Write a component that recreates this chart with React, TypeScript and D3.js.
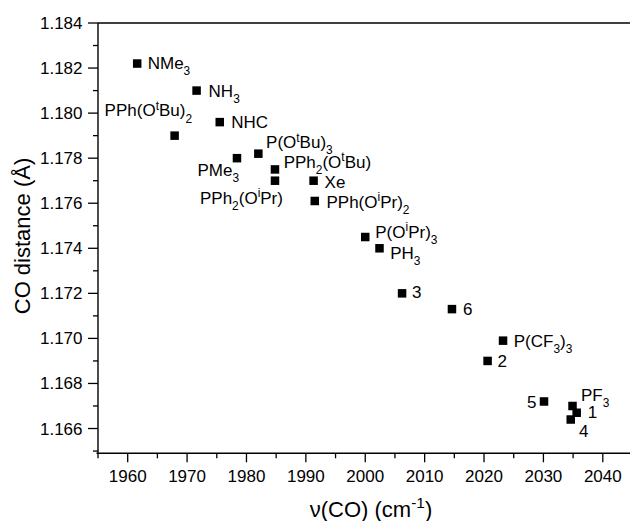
import React from 'react';
import * as d3 from 'd3';

// ligand labels (markup: _x subscript, ^x superscript)
const ligands = [
  'NMe_3', 'NH_3', 'NHC', 'PPh(O^tBu)_2', 'PMe_3', 'P(O^tBu)_3',
  'PPh_2(O^tBu)', 'PPh_2(O^iPr)', 'Xe', 'PPh(O^iPr)_2', 'P(O^iPr)_3',
  'PH_3', '3', '6', 'P(CF_3)_3', '2', '5', 'PF_3', '1', '4',
];
// ν(CO) in cm-1
const nuCO = [
  1961.6, 1971.6, 1975.5, 1967.9, 1978.4, 1982.0,
  1984.8, 1984.8, 1991.3, 1991.5, 2000.0,
  2002.4, 2006.2, 2014.6, 2023.2, 2020.6, 2030.1, 2034.9, 2035.6, 2034.6,
];
// CO distance in Å
const coDist = [
  1.1822, 1.1810, 1.1796, 1.1790, 1.1780, 1.1782,
  1.1775, 1.1770, 1.1770, 1.1761, 1.1745,
  1.1740, 1.1720, 1.1713, 1.1699, 1.1690, 1.1672, 1.1670, 1.1667, 1.1664,
];

const xTicks = [1960, 1970, 1980, 1990, 2000, 2010, 2020, 2030, 2040];
const yTicks = [1.166, 1.168, 1.17, 1.172, 1.174, 1.176, 1.178, 1.18, 1.182, 1.184];

// label placement relative to marker centre: [dx, dy, anchor]
const labelPlacement: [number, number, string][] = [
  [10.5, 5, 'start'], [12, 6, 'start'], [11.4, 6, 'start'], [-70, -19.5, 'start'],
  [-39.5, 17.5, 'start'], [7.7, -5.7, 'start'], [8.7, -1.7, 'start'], [-75, 23, 'start'],
  [11, 7, 'start'], [11.7, 6.6, 'start'], [10, 0.7, 'start'], [10.7, 10.7, 'start'],
  [10, 5, 'start'], [11, 5.4, 'start'], [10.7, 6, 'start'], [10, 5.6, 'start'],
  [-7.6, 6.7, 'end'], [8.4, -5, 'start'], [11, 5, 'start'], [8.3, 17.6, 'start'],
];

const W = 630;
const H = 521;
const FONT = 'Liberation Sans, Arial, Helvetica, sans-serif';

const x = d3.scaleLinear().domain([1955, 2045]).range([98, 632.5]);
const y = d3.scaleLinear().domain([1.1649, 1.184]).range([453.3, 23]);

type Seg = { t: string; kind: 'n' | 'sub' | 'sup' };

function parse(s: string): Seg[] {
  const out: Seg[] = [];
  let i = 0;
  let buf = '';
  while (i < s.length) {
    const c = s[i];
    if (c === '_' || c === '^') {
      if (buf) out.push({ t: buf, kind: 'n' });
      buf = '';
      let t = '';
      if (s[i + 1] === '{') {
        const j = s.indexOf('}', i);
        t = s.slice(i + 2, j);
        i = j + 1;
      } else {
        t = s[i + 1];
        i += 2;
      }
      out.push({ t, kind: c === '_' ? 'sub' : 'sup' });
    } else {
      buf += c;
      i++;
    }
  }
  if (buf) out.push({ t: buf, kind: 'n' });
  return out;
}

const RichText: React.FC<{ s: string; size: number }> = ({ s, size }) => {
  let prev = 0;
  const segs = parse(s);
  return (
    <>
      {segs.map((seg, i) => {
        const shift = seg.kind === 'sub' ? size * 0.38 : seg.kind === 'sup' ? -size * 0.38 : 0;
        const dy = shift - prev;
        prev = shift;
        const fs = seg.kind === 'n' ? size : size * 0.7;
        return (
          <tspan key={i} dy={dy} fontSize={fs}>
            {seg.t}
          </tspan>
        );
      })}
    </>
  );
};

const App: React.FC = () => {
  const [x0, x1] = x.range();
  const [y0, y1] = y.range();
  const xMinor = d3.range(1955, 2046, 5).filter((v) => !xTicks.includes(v));
  const yMinor = d3.range(1.165, 1.1845, 0.001).filter(
    (v) => !yTicks.some((t) => Math.abs(t - v) < 1e-6),
  );
  const sq = 8.5;
  const labelSize = 17;

  return (
    <svg
      width={W}
      height={H}
      style={{ position: 'absolute', left: 0, top: 0, background: '#fff' }}
      fontFamily={FONT}
    >
      <rect width={W} height={H} fill="#fff" />

      {/* frame */}
      <g stroke="#000" strokeWidth={1.4} fill="none">
        <line x1={x0 - 1.5} x2={x1} y1={y0} y2={y0} />
        <line x1={x0} x2={x1} y1={y1} y2={y1} />
        <line x1={x0} x2={x0} y1={y1} y2={y0} />
      </g>

      {/* x axis ticks */}
      <g stroke="#000" strokeWidth={1.3}>
        {xTicks.map((v) => (
          <line key={v} x1={x(v)} x2={x(v)} y1={y0} y2={y0 + 9} />
        ))}
        {xMinor.map((v) => (
          <line key={v} x1={x(v)} x2={x(v)} y1={y0} y2={y0 + 5} />
        ))}
      </g>
      <g fontSize={17} textAnchor="middle" fill="#000">
        {xTicks.map((v) => (
          <text key={v} x={x(v)} y={y0 + 28.7}>
            {v}
          </text>
        ))}
      </g>

      {/* y axis ticks */}
      <g stroke="#000" strokeWidth={1.3}>
        {yTicks.map((v) => (
          <line key={v} x1={x0 - 10} x2={x0} y1={y(v)} y2={y(v)} />
        ))}
        {yMinor.map((v) => (
          <line key={v} x1={x0 - 5} x2={x0} y1={y(v)} y2={y(v)} />
        ))}
      </g>
      <g fontSize={17} textAnchor="end" fill="#000">
        {yTicks.map((v) => (
          <text key={v} x={x0 - 15.5} y={y(v) + 6}>
            {d3.format('.3f')(v)}
          </text>
        ))}
      </g>

      {/* axis titles */}
      <text x={371} y={516.5} textAnchor="middle" fontSize={22}>
        <RichText s="ν(CO) (cm^{-1})" size={22} />
      </text>
      <text
        transform={`translate(30,236) rotate(-90)`}
        textAnchor="middle"
        fontSize={22}
      >
        CO distance (Å)
      </text>

      {/* points */}
      <g fill="#000">
        {nuCO.map((v, i) => (
          <rect
            key={i}
            x={x(v) - sq / 2}
            y={y(coDist[i]) - sq / 2}
            width={sq}
            height={sq}
          />
        ))}
      </g>

      {/* labels */}
      <g fontSize={labelSize} fill="#000">
        {ligands.map((name, i) => {
          const [dx, dy, anchor] = labelPlacement[i];
          return (
            <text
              key={name}
              x={x(nuCO[i]) + dx}
              y={y(coDist[i]) + dy}
              textAnchor={anchor}
            >
              <RichText s={name} size={labelSize} />
            </text>
          );
        })}
      </g>
    </svg>
  );
};

export default App;
